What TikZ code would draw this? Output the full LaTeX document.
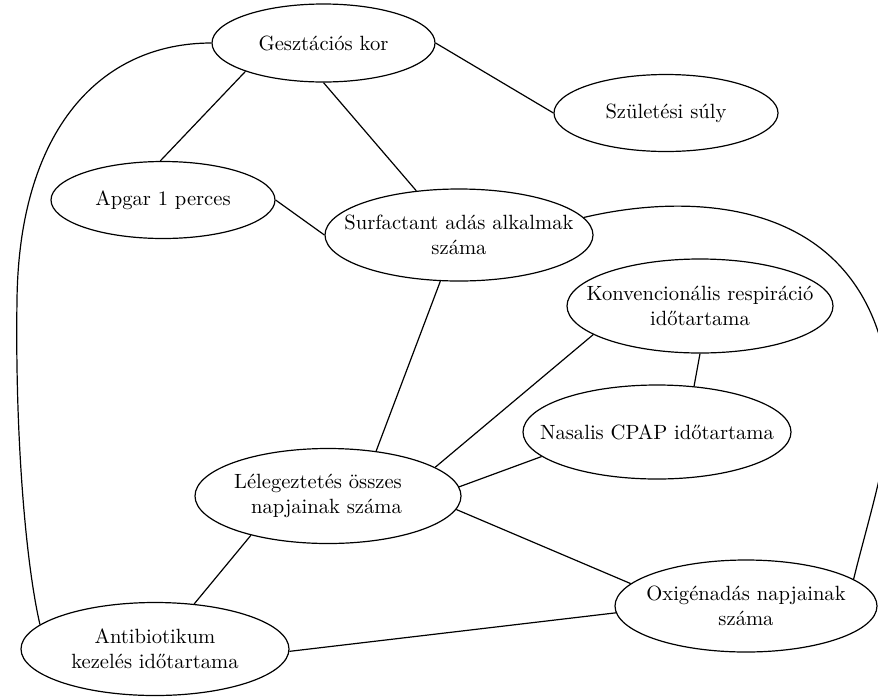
\documentclass[tikz,border=0pt]{standalone}
\usepackage{fontspec}
\usetikzlibrary{shapes.geometric}
\tikzset{
  var/.style={draw, ellipse, line width=0.6pt, inner xsep=-30pt, inner ysep=-5pt,
    align=center, font=\fontsize{10.3}{12.5}\selectfont},
  link/.style={line width=0.6pt}
}
\begin{document}
\begin{tikzpicture}[x=0.5pt, y=-0.5pt]
\useasboundingbox (0,0) rectangle (878,697);

% variables
\node[var, minimum width=111.5pt, minimum height=39pt]  (gk)  at (323.5,43)  {Geszt\'aci\'os kor};
\node[var, minimum width=112pt,   minimum height=38.5pt] (szs) at (666,113)  {Sz\"ulet\'esi s\'uly};
\node[var, minimum width=112pt,   minimum height=38.5pt] (ap)  at (163,200)  {Apgar 1 perces};
\node[var, minimum width=134pt,   minimum height=46pt]  (sf)  at (459,235)  {Surfactant ad\'as alkalmak\\sz\'ama};
\node[var, minimum width=133pt,   minimum height=47pt]  (kr)  at (700,306)  {Konvencion\'alis respir\'aci\'o\\id\H{o}tartama};
\node[var, minimum width=134pt,   minimum height=47pt]  (nc)  at (657,432)  {Nasalis CPAP id\H{o}tartama};
\node[var, minimum width=133pt,   minimum height=47.5pt] (lo)  at (328,496)
  {\begin{tabular}{@{}r@{\hspace{10pt}}}L\'elegeztet\'es \"osszes\\napjainak sz\'ama\end{tabular}};
\node[var, minimum width=131pt,   minimum height=46pt]  (ox)  at (746,606)  {Oxig\'enad\'as napjainak\\sz\'ama};
\node[var, minimum width=134pt,   minimum height=46.5pt] (ab)  at (155,649)  {Antibiotikum\\kezel\'es id\H{o}tartama};

% straight links
\draw[link] (gk.east) -- (szs.west);
\draw[link] (gk.200) -- (ap.94);
\draw[link] (gk.270) -- (sf.134);
\draw[link] (ap.east) -- (sf.west);
\draw[link] (sf.248) -- (lo.43);
\draw[link] (kr.195) -- (lo.15);
\draw[link] (kr.270) -- (nc.51);
\draw[link] (nc.192) -- (lo.4);
\draw[link] (lo.354) -- (ox.169);
\draw[link] (lo.207) -- (ab.49);
\draw[link] (ab.359) -- (ox.183);

% curved links
\draw[link] (gk.west) .. controls (100,43) and (19,130) .. (17,300)
                      .. controls (15,430) and (25,560) .. (ab.168);
\draw[link] (sf.8) .. controls (700,190) and (872,200) .. (890,390)
                   .. controls (894,440) and (868,520) .. (ox.14);
\end{tikzpicture}
\end{document}
